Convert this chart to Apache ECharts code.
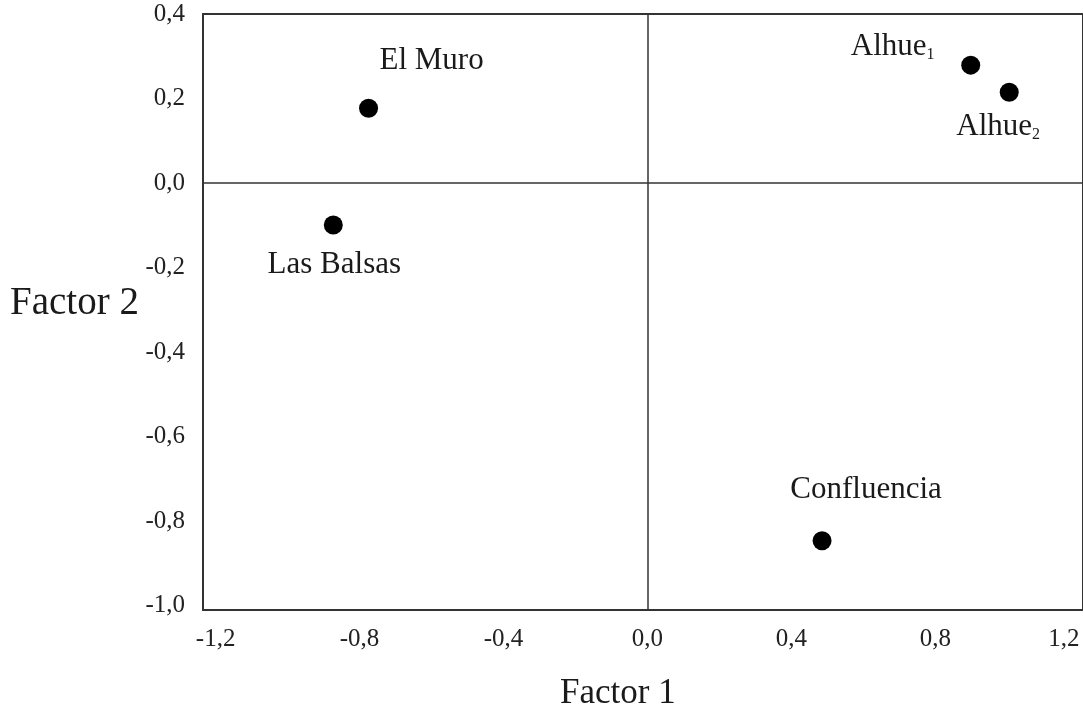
<!DOCTYPE html>
<html><head><meta charset="utf-8">
<script src="https://cdn.jsdelivr.net/npm/echarts@6/dist/echarts.min.js"></script>
<style>html,body{margin:0;padding:0;background:#fff}#c{width:1083px;height:712px}</style>
</head><body><div id="c"></div>
<script>
var siteNames = ['El Muro', 'Las Balsas', 'Alhue1', 'Alhue2', 'Confluencia'];
var factor1 = [-0.775, -0.873, 0.898, 1.005, 0.485];
var factor2 = [0.177, -0.099, 0.279, 0.215, -0.846];
var xTicks = [-1.2, -0.8, -0.4, 0.0, 0.4, 0.8, 1.2];
var yTicks = [-1.0, -0.8, -0.6, -0.4, -0.2, 0.0, 0.2, 0.4];

var labelFormats = {
  'El Muro': '{t|El Muro}',
  'Las Balsas': '{t|Las Balsas}',
  'Alhue1': '{t|Alhue}{s|1}',
  'Alhue2': '{t|Alhue}{s|2}',
  'Confluencia': '{t|Confluencia}'
};
var labelOffsets = {
  'El Muro': [63, -47],
  'Las Balsas': [1, 40],
  'Alhue1': [-78, -18],
  'Alhue2': [-11, 35],
  'Confluencia': [44, -51]
};
var serif = '"Liberation Serif", "DejaVu Serif", serif';
var fmt = function (v) { return v.toFixed(1).replace('.', ','); };

var data = siteNames.map(function (n, i) {
  return {
    name: n, value: [factor1[i], factor2[i]],
    label: { show: true, position: 'inside', offset: labelOffsets[n],
      formatter: labelFormats[n], opacity: 1,
      rich: { t: { fontFamily: serif, fontSize: 31, color: '#1a1a1a' },
              s: { fontFamily: serif, fontSize: 16, color: '#1a1a1a', padding: [16, 0, 0, 0] } } }
  };
});

var chart = echarts.init(document.getElementById('c'));
chart.setOption({
  backgroundColor: '#fff',
  animation: false,
  grid: { left: 203, right: -3, top: 14, bottom: 102, show: true, borderColor: '#333', borderWidth: 2, backgroundColor: 'transparent' },
  xAxis: {
    type: 'value', min: -1.235, max: 1.21,
    axisLine: { show: false }, axisTick: { show: false }, splitLine: { show: false },
    axisLabel: { customValues: xTicks, formatter: fmt, margin: 17, fontFamily: serif, fontSize: 25, color: '#222', alignMaxLabel: 'right' }
  },
  yAxis: {
    type: 'value', min: -1.01, max: 0.4,
    axisLine: { show: false }, axisTick: { show: false }, splitLine: { show: false },
    axisLabel: { customValues: yTicks, formatter: fmt, margin: 18, fontFamily: serif, fontSize: 25, color: '#222' }
  },
  series: [{
    type: 'scatter', symbol: 'circle', symbolSize: 19,
    itemStyle: { color: '#000', opacity: 1 },
    data: data,
    markLine: {
      silent: true, symbol: 'none', label: { show: false },
      lineStyle: { color: '#333', width: 1.5, type: 'solid', opacity: 1 },
      data: [{ xAxis: 0 }, { yAxis: 0 }]
    }
  }],
  graphic: [
    { type: 'text', left: 10, top: 284, style: { text: 'Factor 2', font: '39px ' + serif, fill: '#1a1a1a' } },
    { type: 'text', left: 560, top: 676, style: { text: 'Factor 1', font: '35px ' + serif, fill: '#1a1a1a' } }
  ]
});
</script></body></html>
